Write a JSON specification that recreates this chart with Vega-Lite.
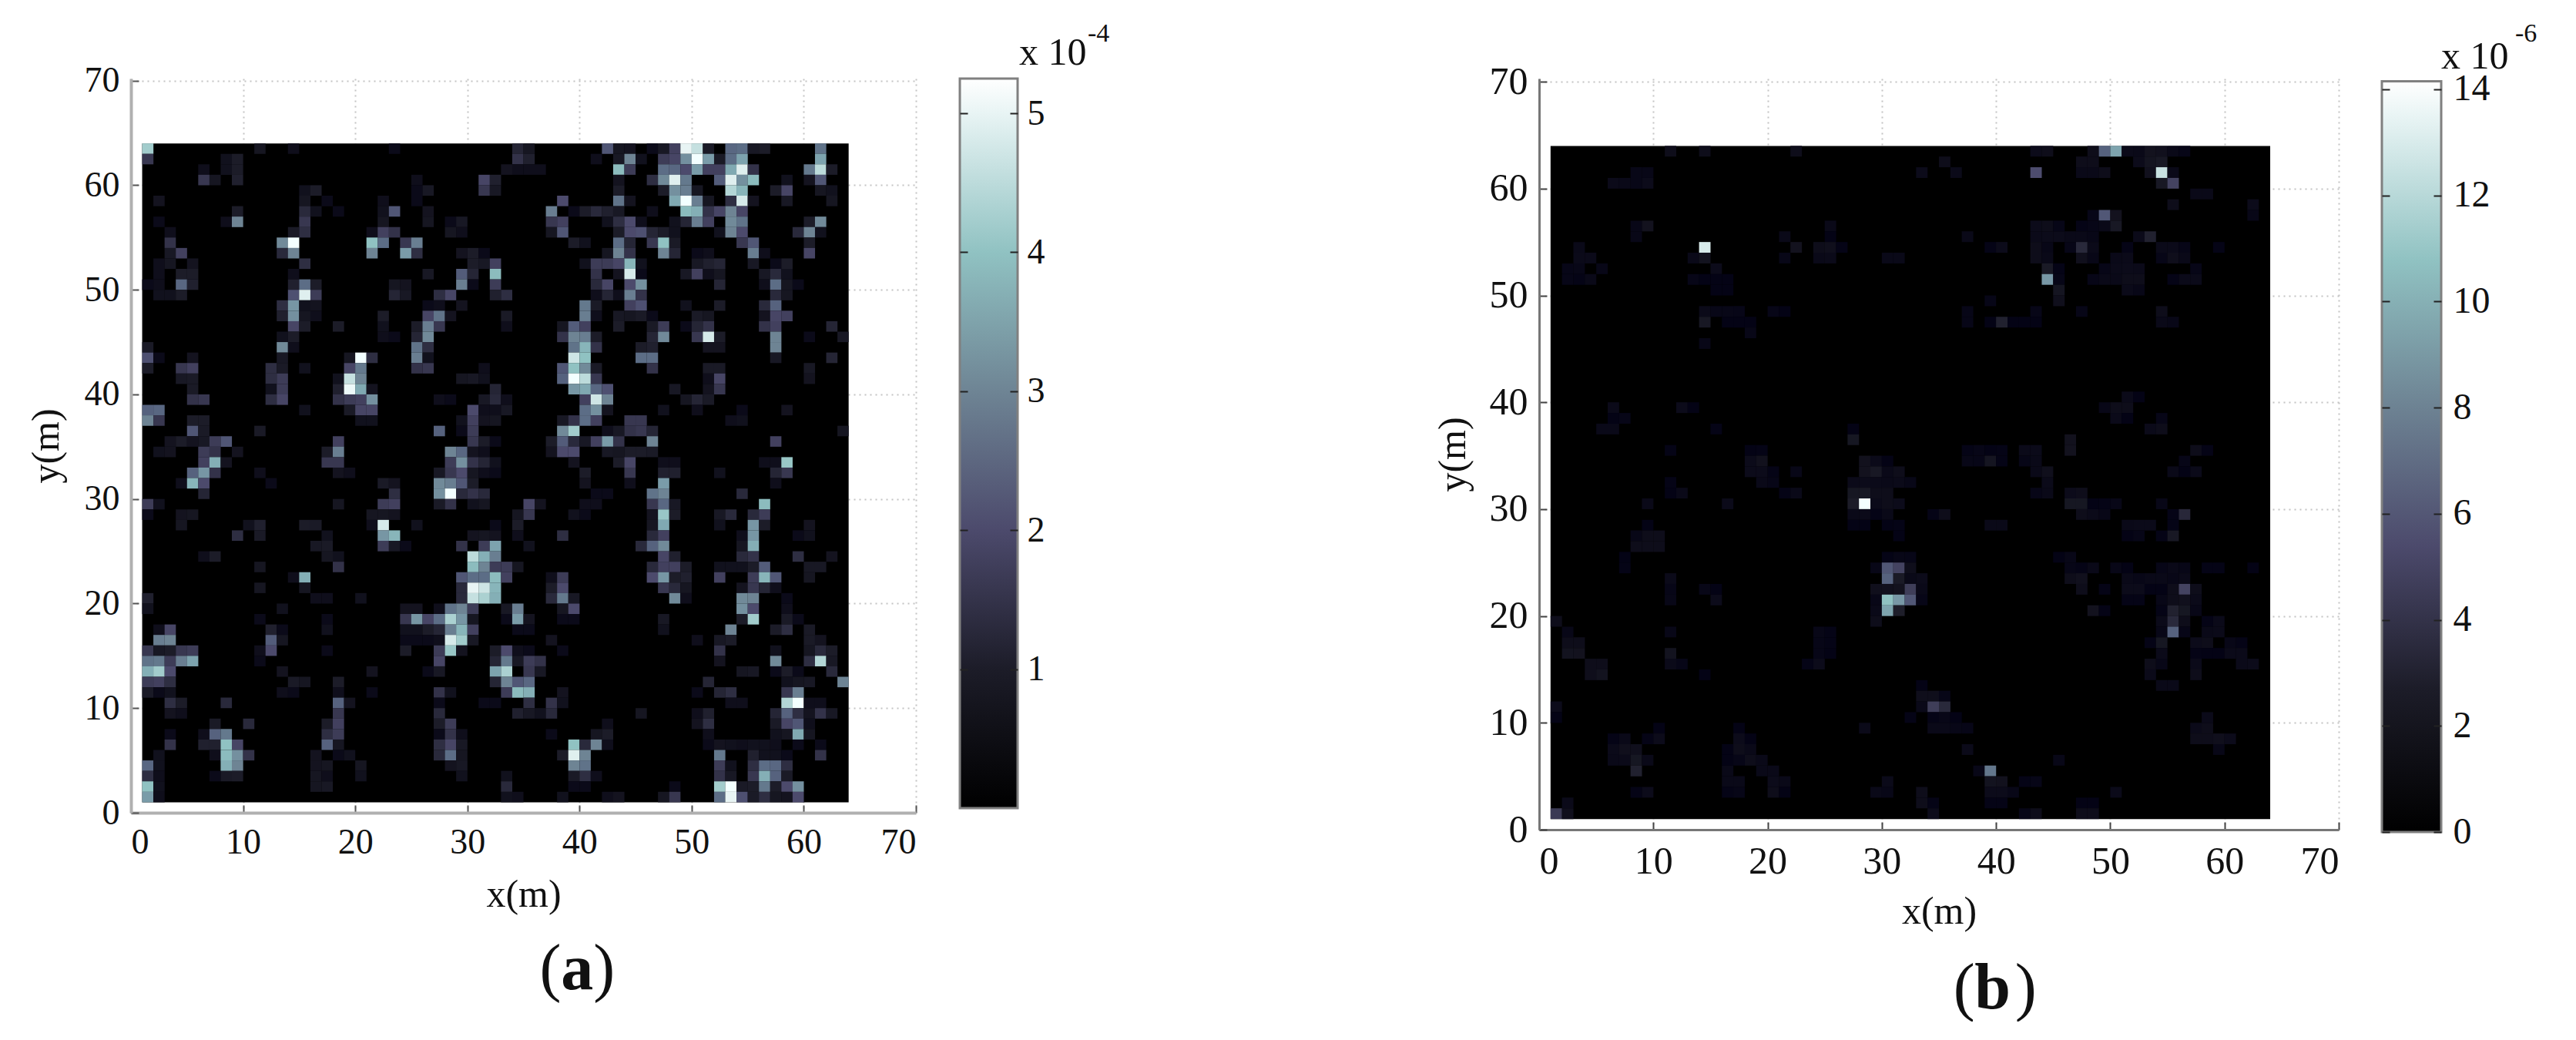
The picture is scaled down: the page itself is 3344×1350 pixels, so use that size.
{"$schema":"https://vega.github.io/schema/vega-lite/v6.json","background":"white","padding":{"left":35,"top":26,"right":0,"bottom":0},"config":{"font":"Liberation Serif","view":{"stroke":null},"axis":{"labelFont":"Liberation Serif","titleFont":"Liberation Serif","labelFontSize":46,"titleFontSize":50,"titleFontWeight":"normal","labelColor":"#111","titleColor":"#111"}},"datasets":{"a":[
{"x":1,"y":63,"v":4.2},{"x":11,"y":63,"v":0.7},{"x":14,"y":63,"v":0.4},{"x":23,"y":63,"v":0.3},{"x":34,"y":63,"v":1.2},{"x":35,"y":63,"v":0.7},{"x":42,"y":63,"v":2.2},{"x":43,"y":63,"v":0.7},{"x":44,"y":63,"v":0.6},{"x":46,"y":63,"v":0.3},{"x":47,"y":63,"v":0.8},{"x":48,"y":63,"v":1.8},{"x":49,"y":63,"v":5},{"x":50,"y":63,"v":4.6},{"x":51,"y":63,"v":0.9},{"x":53,"y":63,"v":2.5},{"x":54,"y":63,"v":2.6},{"x":55,"y":63,"v":0.8},{"x":56,"y":63,"v":1},{"x":61,"y":63,"v":2.7},
{"x":1,"y":62,"v":1.6},{"x":8,"y":62,"v":0.5},{"x":9,"y":62,"v":1},{"x":34,"y":62,"v":1.5},{"x":35,"y":62,"v":1.1},{"x":41,"y":62,"v":0.4},{"x":43,"y":62,"v":0.8},{"x":44,"y":62,"v":3},{"x":45,"y":62,"v":0.5},{"x":47,"y":62,"v":1.7},{"x":48,"y":62,"v":1.9},{"x":49,"y":62,"v":3.2},{"x":50,"y":62,"v":5.2},{"x":51,"y":62,"v":3.4},{"x":52,"y":62,"v":0.9},{"x":53,"y":62,"v":2.6},{"x":54,"y":62,"v":3.5},{"x":61,"y":62,"v":3.5},
{"x":6,"y":61,"v":0.4},{"x":8,"y":61,"v":0.5},{"x":9,"y":61,"v":1},{"x":33,"y":61,"v":0.6},{"x":34,"y":61,"v":0.4},{"x":35,"y":61,"v":0.4},{"x":36,"y":61,"v":0.4},{"x":43,"y":61,"v":3.9},{"x":44,"y":61,"v":1.7},{"x":47,"y":61,"v":2.6},{"x":48,"y":61,"v":2.5},{"x":49,"y":61,"v":2},{"x":50,"y":61,"v":3.4},{"x":51,"y":61,"v":1.8},{"x":52,"y":61,"v":1.8},{"x":53,"y":61,"v":3.6},{"x":54,"y":61,"v":4.9},{"x":55,"y":61,"v":1.5},{"x":60,"y":61,"v":2.8},{"x":61,"y":61,"v":4.5},{"x":62,"y":61,"v":1},
{"x":6,"y":60,"v":1.6},{"x":7,"y":60,"v":0.7},{"x":9,"y":60,"v":1.1},{"x":25,"y":60,"v":0.4},{"x":31,"y":60,"v":1.9},{"x":32,"y":60,"v":1.1},{"x":43,"y":60,"v":0.6},{"x":46,"y":60,"v":1.4},{"x":47,"y":60,"v":3.1},{"x":48,"y":60,"v":4.9},{"x":49,"y":60,"v":2.8},{"x":52,"y":60,"v":2.3},{"x":53,"y":60,"v":4.9},{"x":54,"y":60,"v":3.2},{"x":55,"y":60,"v":3.9},{"x":58,"y":60,"v":0.5},{"x":60,"y":60,"v":0.6},{"x":61,"y":60,"v":2.2},
{"x":15,"y":59,"v":0.5},{"x":16,"y":59,"v":1},{"x":25,"y":59,"v":0.3},{"x":26,"y":59,"v":0.8},{"x":31,"y":59,"v":1.6},{"x":32,"y":59,"v":0.8},{"x":43,"y":59,"v":1},{"x":47,"y":59,"v":1},{"x":48,"y":59,"v":3.2},{"x":49,"y":59,"v":2.9},{"x":50,"y":59,"v":0.7},{"x":53,"y":59,"v":4.4},{"x":54,"y":59,"v":3.8},{"x":57,"y":59,"v":1},{"x":58,"y":59,"v":1.9},{"x":61,"y":59,"v":0.7},{"x":62,"y":59,"v":0.5},
{"x":2,"y":58,"v":0.6},{"x":15,"y":58,"v":0.7},{"x":17,"y":58,"v":0.3},{"x":22,"y":58,"v":0.4},{"x":25,"y":58,"v":0.3},{"x":38,"y":58,"v":2},{"x":43,"y":58,"v":2.7},{"x":44,"y":58,"v":0.6},{"x":48,"y":58,"v":3.6},{"x":49,"y":58,"v":5.2},{"x":50,"y":58,"v":2.9},{"x":51,"y":58,"v":0.7},{"x":53,"y":58,"v":1.4},{"x":54,"y":58,"v":4.8},{"x":55,"y":58,"v":0.6},{"x":58,"y":58,"v":0.8},{"x":62,"y":58,"v":0.7},
{"x":9,"y":57,"v":1},{"x":15,"y":57,"v":1.3},{"x":16,"y":57,"v":0.5},{"x":18,"y":57,"v":0.3},{"x":22,"y":57,"v":0.5},{"x":23,"y":57,"v":2.2},{"x":26,"y":57,"v":0.6},{"x":37,"y":57,"v":2.9},{"x":39,"y":57,"v":0.3},{"x":40,"y":57,"v":1},{"x":41,"y":57,"v":1.3},{"x":42,"y":57,"v":1.1},{"x":43,"y":57,"v":0.8},{"x":46,"y":57,"v":0.4},{"x":49,"y":57,"v":3.9},{"x":50,"y":57,"v":3.7},{"x":51,"y":57,"v":1.5},{"x":52,"y":57,"v":1.9},{"x":53,"y":57,"v":3},{"x":54,"y":57,"v":1.9},
{"x":2,"y":56,"v":0.3},{"x":8,"y":56,"v":0.4},{"x":9,"y":56,"v":3},{"x":15,"y":56,"v":1.6},{"x":22,"y":56,"v":0.7},{"x":26,"y":56,"v":0.7},{"x":28,"y":56,"v":0.3},{"x":29,"y":56,"v":0.8},{"x":37,"y":56,"v":1.6},{"x":38,"y":56,"v":1.8},{"x":42,"y":56,"v":0.5},{"x":43,"y":56,"v":1.4},{"x":44,"y":56,"v":2},{"x":45,"y":56,"v":0.4},{"x":48,"y":56,"v":0.5},{"x":49,"y":56,"v":1.2},{"x":50,"y":56,"v":2.9},{"x":51,"y":56,"v":1.8},{"x":53,"y":56,"v":3.1},{"x":54,"y":56,"v":2.7},{"x":60,"y":56,"v":1},{"x":61,"y":56,"v":3.1},
{"x":3,"y":55,"v":0.4},{"x":14,"y":55,"v":0.9},{"x":15,"y":55,"v":1.4},{"x":21,"y":55,"v":0.4},{"x":22,"y":55,"v":1.8},{"x":23,"y":55,"v":1.5},{"x":28,"y":55,"v":0.7},{"x":29,"y":55,"v":0.4},{"x":37,"y":55,"v":0.7},{"x":38,"y":55,"v":2.2},{"x":43,"y":55,"v":1},{"x":44,"y":55,"v":2},{"x":45,"y":55,"v":2.1},{"x":46,"y":55,"v":1.2},{"x":47,"y":55,"v":1},{"x":48,"y":55,"v":0.5},{"x":52,"y":55,"v":0.5},{"x":53,"y":55,"v":3},{"x":54,"y":55,"v":2},{"x":59,"y":55,"v":1.3},{"x":60,"y":55,"v":3},{"x":61,"y":55,"v":0.5},
{"x":3,"y":54,"v":1.5},{"x":13,"y":54,"v":3.1},{"x":14,"y":54,"v":5.2},{"x":21,"y":54,"v":4},{"x":22,"y":54,"v":2.6},{"x":24,"y":54,"v":1.6},{"x":25,"y":54,"v":2.9},{"x":39,"y":54,"v":1},{"x":40,"y":54,"v":0.5},{"x":43,"y":54,"v":2.6},{"x":44,"y":54,"v":1.2},{"x":46,"y":54,"v":1.6},{"x":47,"y":54,"v":4},{"x":48,"y":54,"v":0.9},{"x":54,"y":54,"v":1.6},{"x":55,"y":54,"v":2.2},{"x":60,"y":54,"v":1},
{"x":3,"y":53,"v":0.8},{"x":4,"y":53,"v":1.8},{"x":13,"y":53,"v":1.3},{"x":14,"y":53,"v":3},{"x":21,"y":53,"v":3},{"x":24,"y":53,"v":3.4},{"x":25,"y":53,"v":1.4},{"x":29,"y":53,"v":0.6},{"x":30,"y":53,"v":1},{"x":31,"y":53,"v":0.3},{"x":42,"y":53,"v":0.7},{"x":43,"y":53,"v":3},{"x":44,"y":53,"v":1.5},{"x":47,"y":53,"v":3},{"x":48,"y":53,"v":1.2},{"x":50,"y":53,"v":0.3},{"x":51,"y":53,"v":0.4},{"x":55,"y":53,"v":2.9},{"x":56,"y":53,"v":0.4},{"x":60,"y":53,"v":1.9},
{"x":2,"y":52,"v":0.4},{"x":3,"y":52,"v":0.7},{"x":5,"y":52,"v":0.6},{"x":15,"y":52,"v":1.4},{"x":30,"y":52,"v":1},{"x":31,"y":52,"v":0.8},{"x":32,"y":52,"v":1.8},{"x":40,"y":52,"v":0.5},{"x":41,"y":52,"v":1.7},{"x":42,"y":52,"v":1.7},{"x":43,"y":52,"v":1.9},{"x":44,"y":52,"v":3.8},{"x":45,"y":52,"v":0.5},{"x":50,"y":52,"v":0.8},{"x":51,"y":52,"v":1.1},{"x":52,"y":52,"v":1.2},{"x":55,"y":52,"v":0.8},{"x":57,"y":52,"v":0.3},{"x":58,"y":52,"v":1},
{"x":2,"y":51,"v":0.4},{"x":4,"y":51,"v":1},{"x":5,"y":51,"v":1},{"x":14,"y":51,"v":0.4},{"x":26,"y":51,"v":0.8},{"x":29,"y":51,"v":2.3},{"x":30,"y":51,"v":1.2},{"x":32,"y":51,"v":3.9},{"x":41,"y":51,"v":1.5},{"x":43,"y":51,"v":0.6},{"x":44,"y":51,"v":4.8},{"x":45,"y":51,"v":0.3},{"x":49,"y":51,"v":0.8},{"x":50,"y":51,"v":1.8},{"x":51,"y":51,"v":0.4},{"x":52,"y":51,"v":0.7},{"x":56,"y":51,"v":0.8},{"x":57,"y":51,"v":1.3},{"x":58,"y":51,"v":0.5},
{"x":1,"y":50,"v":0.3},{"x":2,"y":50,"v":0.4},{"x":4,"y":50,"v":2.5},{"x":5,"y":50,"v":1.1},{"x":14,"y":50,"v":1.1},{"x":15,"y":50,"v":2.6},{"x":16,"y":50,"v":1},{"x":23,"y":50,"v":0.7},{"x":24,"y":50,"v":0.6},{"x":29,"y":50,"v":2.9},{"x":30,"y":50,"v":0.3},{"x":32,"y":50,"v":1.7},{"x":41,"y":50,"v":1.3},{"x":42,"y":50,"v":1.9},{"x":44,"y":50,"v":2},{"x":45,"y":50,"v":3.2},{"x":52,"y":50,"v":1.2},{"x":56,"y":50,"v":0.4},{"x":57,"y":50,"v":2.6},{"x":58,"y":50,"v":0.7},{"x":59,"y":50,"v":0.3},
{"x":2,"y":49,"v":0.5},{"x":3,"y":49,"v":0.5},{"x":4,"y":49,"v":1},{"x":14,"y":49,"v":2.1},{"x":15,"y":49,"v":4.9},{"x":16,"y":49,"v":1.7},{"x":23,"y":49,"v":1.2},{"x":24,"y":49,"v":0.8},{"x":27,"y":49,"v":1.4},{"x":28,"y":49,"v":1.9},{"x":32,"y":49,"v":1.1},{"x":33,"y":49,"v":1.4},{"x":41,"y":49,"v":0.4},{"x":42,"y":49,"v":1.2},{"x":43,"y":49,"v":0.4},{"x":44,"y":49,"v":2.9},{"x":45,"y":49,"v":1.5},{"x":57,"y":49,"v":1.3},{"x":58,"y":49,"v":0.7},
{"x":13,"y":48,"v":1.4},{"x":14,"y":48,"v":3.3},{"x":15,"y":48,"v":0.5},{"x":16,"y":48,"v":0.6},{"x":26,"y":48,"v":0.3},{"x":27,"y":48,"v":0.4},{"x":29,"y":48,"v":0.6},{"x":40,"y":48,"v":2.8},{"x":41,"y":48,"v":0.9},{"x":44,"y":48,"v":1.8},{"x":45,"y":48,"v":2.1},{"x":49,"y":48,"v":0.5},{"x":52,"y":48,"v":1},{"x":56,"y":48,"v":1.3},{"x":57,"y":48,"v":2.4},
{"x":13,"y":47,"v":1.1},{"x":14,"y":47,"v":3.2},{"x":15,"y":47,"v":0.7},{"x":16,"y":47,"v":0.4},{"x":22,"y":47,"v":1},{"x":26,"y":47,"v":1.9},{"x":27,"y":47,"v":2.7},{"x":28,"y":47,"v":0.6},{"x":33,"y":47,"v":0.9},{"x":40,"y":47,"v":2.9},{"x":41,"y":47,"v":0.4},{"x":43,"y":47,"v":0.8},{"x":44,"y":47,"v":0.7},{"x":45,"y":47,"v":0.9},{"x":46,"y":47,"v":0.3},{"x":50,"y":47,"v":0.9},{"x":51,"y":47,"v":0.7},{"x":56,"y":47,"v":0.6},{"x":57,"y":47,"v":1.9},{"x":58,"y":47,"v":1.8},
{"x":14,"y":46,"v":1.9},{"x":15,"y":46,"v":1},{"x":18,"y":46,"v":1},{"x":22,"y":46,"v":0.5},{"x":25,"y":46,"v":1},{"x":26,"y":46,"v":2.9},{"x":27,"y":46,"v":1.6},{"x":33,"y":46,"v":0.4},{"x":38,"y":46,"v":0.7},{"x":39,"y":46,"v":2.3},{"x":40,"y":46,"v":1.8},{"x":43,"y":46,"v":1},{"x":46,"y":46,"v":0.9},{"x":47,"y":46,"v":1.7},{"x":49,"y":46,"v":0.3},{"x":50,"y":46,"v":1.2},{"x":51,"y":46,"v":1.5},{"x":56,"y":46,"v":1.5},{"x":57,"y":46,"v":1.8},{"x":62,"y":46,"v":1.2},
{"x":13,"y":45,"v":0.5},{"x":14,"y":45,"v":1},{"x":22,"y":45,"v":0.4},{"x":23,"y":45,"v":0.3},{"x":25,"y":45,"v":1.2},{"x":26,"y":45,"v":3.1},{"x":38,"y":45,"v":1.5},{"x":39,"y":45,"v":3},{"x":40,"y":45,"v":2.9},{"x":41,"y":45,"v":1},{"x":46,"y":45,"v":1.2},{"x":47,"y":45,"v":3.1},{"x":50,"y":45,"v":1.6},{"x":51,"y":45,"v":4.8},{"x":52,"y":45,"v":1},{"x":57,"y":45,"v":3},{"x":60,"y":45,"v":0.3},{"x":63,"y":45,"v":0.8},
{"x":1,"y":44,"v":0.9},{"x":13,"y":44,"v":3.1},{"x":14,"y":44,"v":0.4},{"x":25,"y":44,"v":2.7},{"x":26,"y":44,"v":1.4},{"x":39,"y":44,"v":2.7},{"x":40,"y":44,"v":3.8},{"x":41,"y":44,"v":1.5},{"x":45,"y":44,"v":1},{"x":46,"y":44,"v":1.1},{"x":51,"y":44,"v":0.6},{"x":52,"y":44,"v":0.6},{"x":57,"y":44,"v":3},
{"x":1,"y":43,"v":2.1},{"x":2,"y":43,"v":0.3},{"x":5,"y":43,"v":0.6},{"x":13,"y":43,"v":0.8},{"x":19,"y":43,"v":0.7},{"x":20,"y":43,"v":5.2},{"x":21,"y":43,"v":1.4},{"x":25,"y":43,"v":2.9},{"x":26,"y":43,"v":0.5},{"x":39,"y":43,"v":4.7},{"x":40,"y":43,"v":4},{"x":45,"y":43,"v":2.6},{"x":46,"y":43,"v":2.6},{"x":57,"y":43,"v":0.8},{"x":62,"y":43,"v":1.2},
{"x":1,"y":42,"v":1},{"x":4,"y":42,"v":1.6},{"x":5,"y":42,"v":1.8},{"x":12,"y":42,"v":1.4},{"x":13,"y":42,"v":0.9},{"x":15,"y":42,"v":0.5},{"x":19,"y":42,"v":1.9},{"x":20,"y":42,"v":2.8},{"x":25,"y":42,"v":1.5},{"x":26,"y":42,"v":1.6},{"x":31,"y":42,"v":0.4},{"x":38,"y":42,"v":2.2},{"x":39,"y":42,"v":4},{"x":40,"y":42,"v":3.1},{"x":41,"y":42,"v":0.9},{"x":46,"y":42,"v":1.5},{"x":51,"y":42,"v":0.9},{"x":52,"y":42,"v":0.9},{"x":60,"y":42,"v":0.8},
{"x":4,"y":41,"v":0.8},{"x":5,"y":41,"v":0.9},{"x":12,"y":41,"v":1.4},{"x":13,"y":41,"v":1.7},{"x":18,"y":41,"v":0.5},{"x":19,"y":41,"v":4.6},{"x":20,"y":41,"v":3},{"x":29,"y":41,"v":0.7},{"x":30,"y":41,"v":0.8},{"x":31,"y":41,"v":0.5},{"x":38,"y":41,"v":2.4},{"x":39,"y":41,"v":5.2},{"x":40,"y":41,"v":4.5},{"x":41,"y":41,"v":1.6},{"x":51,"y":41,"v":0.4},{"x":52,"y":41,"v":1.9},{"x":60,"y":41,"v":0.6},
{"x":5,"y":40,"v":0.9},{"x":12,"y":40,"v":0.5},{"x":13,"y":40,"v":1.7},{"x":18,"y":40,"v":1.1},{"x":19,"y":40,"v":5.1},{"x":20,"y":40,"v":3.6},{"x":21,"y":40,"v":0.6},{"x":32,"y":40,"v":1.2},{"x":39,"y":40,"v":3.3},{"x":40,"y":40,"v":3.6},{"x":41,"y":40,"v":2.5},{"x":42,"y":40,"v":2.1},{"x":48,"y":40,"v":0.8},{"x":51,"y":40,"v":0.6},{"x":52,"y":40,"v":1.6},
{"x":5,"y":39,"v":1.5},{"x":6,"y":39,"v":1.6},{"x":12,"y":39,"v":1.4},{"x":13,"y":39,"v":1.9},{"x":18,"y":39,"v":1.5},{"x":19,"y":39,"v":1.7},{"x":20,"y":39,"v":1.8},{"x":21,"y":39,"v":3.2},{"x":27,"y":39,"v":0.4},{"x":28,"y":39,"v":0.3},{"x":31,"y":39,"v":0.8},{"x":32,"y":39,"v":1.3},{"x":33,"y":39,"v":0.4},{"x":40,"y":39,"v":1.8},{"x":41,"y":39,"v":4.7},{"x":42,"y":39,"v":3},{"x":49,"y":39,"v":0.7},{"x":50,"y":39,"v":1.2},{"x":51,"y":39,"v":0.9},
{"x":1,"y":38,"v":2.4},{"x":2,"y":38,"v":2.5},{"x":15,"y":38,"v":0.5},{"x":19,"y":38,"v":0.9},{"x":20,"y":38,"v":1.9},{"x":21,"y":38,"v":1.9},{"x":30,"y":38,"v":2},{"x":31,"y":38,"v":0.4},{"x":32,"y":38,"v":0.4},{"x":33,"y":38,"v":0.8},{"x":40,"y":38,"v":2.6},{"x":41,"y":38,"v":3.2},{"x":42,"y":38,"v":0.6},{"x":47,"y":38,"v":0.5},{"x":50,"y":38,"v":0.4},{"x":54,"y":38,"v":0.3},{"x":58,"y":38,"v":0.6},
{"x":1,"y":37,"v":3},{"x":2,"y":37,"v":1.6},{"x":5,"y":37,"v":1},{"x":6,"y":37,"v":1},{"x":20,"y":37,"v":0.5},{"x":21,"y":37,"v":0.5},{"x":29,"y":37,"v":0.5},{"x":30,"y":37,"v":1.8},{"x":31,"y":37,"v":0.6},{"x":32,"y":37,"v":0.7},{"x":38,"y":37,"v":0.8},{"x":39,"y":37,"v":1.5},{"x":40,"y":37,"v":2.6},{"x":41,"y":37,"v":1.8},{"x":44,"y":37,"v":1.6},{"x":45,"y":37,"v":1.6},{"x":53,"y":37,"v":0.4},{"x":54,"y":37,"v":0.5},
{"x":5,"y":36,"v":2.2},{"x":6,"y":36,"v":0.9},{"x":11,"y":36,"v":0.9},{"x":27,"y":36,"v":2.4},{"x":29,"y":36,"v":0.3},{"x":30,"y":36,"v":1.7},{"x":38,"y":36,"v":3.1},{"x":39,"y":36,"v":4.2},{"x":42,"y":36,"v":0.4},{"x":43,"y":36,"v":0.8},{"x":44,"y":36,"v":1.5},{"x":45,"y":36,"v":1.6},{"x":46,"y":36,"v":1.2},{"x":63,"y":36,"v":0.7},
{"x":3,"y":35,"v":0.6},{"x":4,"y":35,"v":1},{"x":5,"y":35,"v":0.6},{"x":6,"y":35,"v":0.8},{"x":7,"y":35,"v":1.7},{"x":8,"y":35,"v":2.2},{"x":18,"y":35,"v":1.8},{"x":30,"y":35,"v":1.6},{"x":31,"y":35,"v":1},{"x":32,"y":35,"v":0.3},{"x":37,"y":35,"v":1},{"x":38,"y":35,"v":2.3},{"x":39,"y":35,"v":1.3},{"x":40,"y":35,"v":0.8},{"x":41,"y":35,"v":1.8},{"x":42,"y":35,"v":3.4},{"x":43,"y":35,"v":1.5},{"x":46,"y":35,"v":3},{"x":57,"y":35,"v":1.8},
{"x":2,"y":34,"v":0.5},{"x":3,"y":34,"v":0.6},{"x":6,"y":34,"v":1.7},{"x":7,"y":34,"v":1.5},{"x":9,"y":34,"v":0.6},{"x":17,"y":34,"v":1},{"x":18,"y":34,"v":2.9},{"x":28,"y":34,"v":3},{"x":29,"y":34,"v":2.5},{"x":30,"y":34,"v":0.6},{"x":31,"y":34,"v":0.4},{"x":37,"y":34,"v":0.6},{"x":38,"y":34,"v":2},{"x":39,"y":34,"v":2},{"x":42,"y":34,"v":0.8},{"x":43,"y":34,"v":0.7},{"x":44,"y":34,"v":1},{"x":45,"y":34,"v":1},{"x":46,"y":34,"v":0.9},
{"x":6,"y":33,"v":1.8},{"x":7,"y":33,"v":3.7},{"x":8,"y":33,"v":0.6},{"x":17,"y":33,"v":1.6},{"x":18,"y":33,"v":1.6},{"x":28,"y":33,"v":1.7},{"x":29,"y":33,"v":3.2},{"x":30,"y":33,"v":1.5},{"x":31,"y":33,"v":1.2},{"x":32,"y":33,"v":0.5},{"x":39,"y":33,"v":0.6},{"x":43,"y":33,"v":1},{"x":44,"y":33,"v":1.9},{"x":47,"y":33,"v":0.4},{"x":48,"y":33,"v":0.4},{"x":56,"y":33,"v":0.4},{"x":57,"y":33,"v":0.4},{"x":58,"y":33,"v":4.1},
{"x":5,"y":32,"v":2.4},{"x":6,"y":32,"v":3.3},{"x":7,"y":32,"v":1.5},{"x":11,"y":32,"v":0.4},{"x":18,"y":32,"v":0.6},{"x":19,"y":32,"v":0.4},{"x":27,"y":32,"v":0.8},{"x":28,"y":32,"v":1.6},{"x":29,"y":32,"v":2},{"x":30,"y":32,"v":0.7},{"x":31,"y":32,"v":0.4},{"x":32,"y":32,"v":0.3},{"x":40,"y":32,"v":1},{"x":44,"y":32,"v":1.6},{"x":47,"y":32,"v":1.1},{"x":48,"y":32,"v":1.1},{"x":52,"y":32,"v":0.5},{"x":57,"y":32,"v":1.2},{"x":58,"y":32,"v":1.6},
{"x":4,"y":31,"v":0.4},{"x":5,"y":31,"v":3.8},{"x":6,"y":31,"v":2},{"x":12,"y":31,"v":0.3},{"x":22,"y":31,"v":0.9},{"x":23,"y":31,"v":0.6},{"x":27,"y":31,"v":3.1},{"x":28,"y":31,"v":2.9},{"x":29,"y":31,"v":2.2},{"x":30,"y":31,"v":1},{"x":40,"y":31,"v":0.6},{"x":44,"y":31,"v":0.4},{"x":47,"y":31,"v":3.4},{"x":57,"y":31,"v":0.4},
{"x":6,"y":30,"v":1.2},{"x":23,"y":30,"v":1.4},{"x":27,"y":30,"v":3.2},{"x":28,"y":30,"v":5.2},{"x":29,"y":30,"v":1.3},{"x":30,"y":30,"v":1.5},{"x":31,"y":30,"v":1.3},{"x":41,"y":30,"v":0.3},{"x":42,"y":30,"v":0.3},{"x":46,"y":30,"v":2.7},{"x":47,"y":30,"v":3},{"x":54,"y":30,"v":1.3},
{"x":1,"y":29,"v":1.7},{"x":2,"y":29,"v":0.5},{"x":18,"y":29,"v":0.7},{"x":22,"y":29,"v":1.7},{"x":23,"y":29,"v":1.8},{"x":27,"y":29,"v":0.9},{"x":28,"y":29,"v":1.5},{"x":30,"y":29,"v":0.5},{"x":31,"y":29,"v":0.7},{"x":35,"y":29,"v":1.9},{"x":36,"y":29,"v":0.6},{"x":40,"y":29,"v":0.4},{"x":41,"y":29,"v":0.4},{"x":46,"y":29,"v":1.6},{"x":47,"y":29,"v":2.5},{"x":48,"y":29,"v":0.8},{"x":56,"y":29,"v":3.9},
{"x":1,"y":28,"v":0.3},{"x":4,"y":28,"v":0.6},{"x":5,"y":28,"v":0.7},{"x":21,"y":28,"v":0.7},{"x":22,"y":28,"v":0.7},{"x":23,"y":28,"v":0.6},{"x":34,"y":28,"v":0.7},{"x":35,"y":28,"v":1.6},{"x":39,"y":28,"v":0.5},{"x":40,"y":28,"v":0.3},{"x":46,"y":28,"v":0.6},{"x":47,"y":28,"v":4.1},{"x":48,"y":28,"v":1},{"x":52,"y":28,"v":0.8},{"x":53,"y":28,"v":1.3},{"x":55,"y":28,"v":1.3},{"x":56,"y":28,"v":1.7},
{"x":4,"y":27,"v":0.7},{"x":10,"y":27,"v":0.5},{"x":11,"y":27,"v":1.1},{"x":15,"y":27,"v":1},{"x":16,"y":27,"v":0.9},{"x":21,"y":27,"v":0.4},{"x":22,"y":27,"v":4.8},{"x":25,"y":27,"v":0.5},{"x":32,"y":27,"v":0.3},{"x":34,"y":27,"v":1},{"x":46,"y":27,"v":0.7},{"x":47,"y":27,"v":3.6},{"x":52,"y":27,"v":0.5},{"x":55,"y":27,"v":3.3},{"x":56,"y":27,"v":1},{"x":60,"y":27,"v":0.6},
{"x":9,"y":26,"v":1.4},{"x":11,"y":26,"v":0.9},{"x":17,"y":26,"v":0.5},{"x":22,"y":26,"v":3.3},{"x":23,"y":26,"v":3.8},{"x":30,"y":26,"v":0.6},{"x":31,"y":26,"v":0.7},{"x":32,"y":26,"v":0.6},{"x":34,"y":26,"v":0.4},{"x":38,"y":26,"v":1.4},{"x":46,"y":26,"v":1.3},{"x":47,"y":26,"v":1.8},{"x":54,"y":26,"v":0.4},{"x":55,"y":26,"v":3.3},{"x":59,"y":26,"v":0.3},{"x":60,"y":26,"v":0.5},
{"x":16,"y":25,"v":0.8},{"x":17,"y":25,"v":0.9},{"x":22,"y":25,"v":1.7},{"x":23,"y":25,"v":0.8},{"x":24,"y":25,"v":0.3},{"x":29,"y":25,"v":1.5},{"x":31,"y":25,"v":1.7},{"x":32,"y":25,"v":3.5},{"x":35,"y":25,"v":0.5},{"x":45,"y":25,"v":1.3},{"x":46,"y":25,"v":2.4},{"x":47,"y":25,"v":3.1},{"x":54,"y":25,"v":0.7},{"x":55,"y":25,"v":3.7},
{"x":6,"y":24,"v":0.4},{"x":7,"y":24,"v":1},{"x":17,"y":24,"v":0.7},{"x":18,"y":24,"v":0.5},{"x":30,"y":24,"v":4.5},{"x":31,"y":24,"v":3.7},{"x":32,"y":24,"v":2.9},{"x":47,"y":24,"v":1.9},{"x":48,"y":24,"v":1.1},{"x":54,"y":24,"v":1.3},{"x":55,"y":24,"v":1.5},{"x":59,"y":24,"v":1.4},{"x":62,"y":24,"v":0.6},
{"x":11,"y":23,"v":0.7},{"x":18,"y":23,"v":1.5},{"x":30,"y":23,"v":3.9},{"x":31,"y":23,"v":3},{"x":32,"y":23,"v":1.7},{"x":33,"y":23,"v":1.7},{"x":34,"y":23,"v":0.7},{"x":46,"y":23,"v":1.3},{"x":47,"y":23,"v":1.8},{"x":48,"y":23,"v":1.8},{"x":49,"y":23,"v":1},{"x":52,"y":23,"v":0.5},{"x":53,"y":23,"v":0.5},{"x":54,"y":23,"v":0.5},{"x":55,"y":23,"v":1},{"x":56,"y":23,"v":2.3},{"x":60,"y":23,"v":0.8},{"x":61,"y":23,"v":0.8},
{"x":14,"y":22,"v":0.4},{"x":15,"y":22,"v":3.7},{"x":29,"y":22,"v":2.2},{"x":30,"y":22,"v":2.6},{"x":31,"y":22,"v":2.6},{"x":32,"y":22,"v":3.9},{"x":33,"y":22,"v":1.8},{"x":37,"y":22,"v":0.4},{"x":38,"y":22,"v":1.7},{"x":46,"y":22,"v":2},{"x":47,"y":22,"v":3.3},{"x":48,"y":22,"v":1},{"x":49,"y":22,"v":1.1},{"x":52,"y":22,"v":1.8},{"x":55,"y":22,"v":1.7},{"x":56,"y":22,"v":3.8},{"x":57,"y":22,"v":2.2},{"x":60,"y":22,"v":0.7},
{"x":11,"y":21,"v":0.7},{"x":15,"y":21,"v":0.7},{"x":29,"y":21,"v":1.3},{"x":30,"y":21,"v":5},{"x":31,"y":21,"v":4.7},{"x":32,"y":21,"v":3.8},{"x":37,"y":21,"v":1},{"x":38,"y":21,"v":2},{"x":47,"y":21,"v":1.6},{"x":48,"y":21,"v":1.3},{"x":49,"y":21,"v":0.7},{"x":54,"y":21,"v":0.6},{"x":55,"y":21,"v":1.6},{"x":56,"y":21,"v":1.2},{"x":57,"y":21,"v":0.4},
{"x":1,"y":20,"v":1.1},{"x":16,"y":20,"v":0.4},{"x":17,"y":20,"v":0.4},{"x":20,"y":20,"v":0.5},{"x":29,"y":20,"v":1.3},{"x":30,"y":20,"v":4.6},{"x":31,"y":20,"v":4.3},{"x":32,"y":20,"v":3.7},{"x":37,"y":20,"v":1.3},{"x":38,"y":20,"v":2.8},{"x":39,"y":20,"v":0.8},{"x":48,"y":20,"v":3.1},{"x":49,"y":20,"v":0.4},{"x":54,"y":20,"v":3.1},{"x":55,"y":20,"v":3},{"x":58,"y":20,"v":0.3},
{"x":1,"y":19,"v":0.5},{"x":13,"y":19,"v":0.5},{"x":24,"y":19,"v":0.6},{"x":25,"y":19,"v":0.6},{"x":27,"y":19,"v":0.4},{"x":28,"y":19,"v":2.7},{"x":29,"y":19,"v":3},{"x":30,"y":19,"v":1.7},{"x":33,"y":19,"v":0.8},{"x":34,"y":19,"v":2.9},{"x":38,"y":19,"v":0.7},{"x":39,"y":19,"v":2},{"x":54,"y":19,"v":3.2},{"x":55,"y":19,"v":2},{"x":58,"y":19,"v":0.4},
{"x":11,"y":18,"v":0.3},{"x":17,"y":18,"v":0.3},{"x":24,"y":18,"v":1.6},{"x":25,"y":18,"v":3.3},{"x":26,"y":18,"v":1.9},{"x":27,"y":18,"v":2.6},{"x":28,"y":18,"v":4.3},{"x":29,"y":18,"v":3.3},{"x":30,"y":18,"v":0.7},{"x":33,"y":18,"v":0.3},{"x":34,"y":18,"v":3.4},{"x":35,"y":18,"v":0.6},{"x":38,"y":18,"v":0.3},{"x":39,"y":18,"v":0.3},{"x":47,"y":18,"v":0.8},{"x":54,"y":18,"v":1},{"x":55,"y":18,"v":4.2},{"x":58,"y":18,"v":0.9},{"x":59,"y":18,"v":0.3},
{"x":2,"y":17,"v":0.4},{"x":3,"y":17,"v":1.9},{"x":12,"y":17,"v":1.1},{"x":13,"y":17,"v":0.3},{"x":17,"y":17,"v":0.5},{"x":24,"y":17,"v":0.5},{"x":25,"y":17,"v":0.5},{"x":26,"y":17,"v":1},{"x":27,"y":17,"v":1.2},{"x":28,"y":17,"v":2.9},{"x":29,"y":17,"v":3.8},{"x":30,"y":17,"v":1.8},{"x":34,"y":17,"v":0.3},{"x":35,"y":17,"v":0.3},{"x":47,"y":17,"v":0.5},{"x":53,"y":17,"v":3},{"x":57,"y":17,"v":1},{"x":58,"y":17,"v":1.4},{"x":60,"y":17,"v":0.9},
{"x":2,"y":16,"v":2.9},{"x":3,"y":16,"v":3},{"x":12,"y":16,"v":2.3},{"x":13,"y":16,"v":0.7},{"x":24,"y":16,"v":0.3},{"x":25,"y":16,"v":0.3},{"x":26,"y":16,"v":0.3},{"x":27,"y":16,"v":0.4},{"x":28,"y":16,"v":4.8},{"x":29,"y":16,"v":4.2},{"x":30,"y":16,"v":0.8},{"x":37,"y":16,"v":0.6},{"x":50,"y":16,"v":0.4},{"x":52,"y":16,"v":0.8},{"x":53,"y":16,"v":1},{"x":60,"y":16,"v":0.9},{"x":61,"y":16,"v":0.6},
{"x":1,"y":15,"v":1.6},{"x":2,"y":15,"v":0.8},{"x":3,"y":15,"v":1},{"x":4,"y":15,"v":1.6},{"x":5,"y":15,"v":1.7},{"x":11,"y":15,"v":0.4},{"x":12,"y":15,"v":2},{"x":17,"y":15,"v":0.3},{"x":24,"y":15,"v":1},{"x":27,"y":15,"v":1.7},{"x":28,"y":15,"v":4.1},{"x":29,"y":15,"v":0.6},{"x":32,"y":15,"v":1},{"x":33,"y":15,"v":2},{"x":34,"y":15,"v":0.4},{"x":35,"y":15,"v":0.3},{"x":38,"y":15,"v":0.3},{"x":52,"y":15,"v":1.5},{"x":57,"y":15,"v":0.5},{"x":60,"y":15,"v":0.7},{"x":61,"y":15,"v":1.3},{"x":62,"y":15,"v":1},
{"x":1,"y":14,"v":2.7},{"x":2,"y":14,"v":2.8},{"x":3,"y":14,"v":1.7},{"x":4,"y":14,"v":2.9},{"x":5,"y":14,"v":3.5},{"x":11,"y":14,"v":0.3},{"x":27,"y":14,"v":1.9},{"x":32,"y":14,"v":1.2},{"x":33,"y":14,"v":2.8},{"x":34,"y":14,"v":0.8},{"x":35,"y":14,"v":1.7},{"x":36,"y":14,"v":1.5},{"x":52,"y":14,"v":0.6},{"x":57,"y":14,"v":3.1},{"x":60,"y":14,"v":1.4},{"x":61,"y":14,"v":4.4},{"x":62,"y":14,"v":0.8},
{"x":1,"y":13,"v":3.7},{"x":2,"y":13,"v":4.2},{"x":3,"y":13,"v":2},{"x":13,"y":13,"v":0.6},{"x":21,"y":13,"v":0.6},{"x":26,"y":13,"v":0.3},{"x":27,"y":13,"v":0.8},{"x":32,"y":13,"v":3.5},{"x":33,"y":13,"v":4.3},{"x":35,"y":13,"v":1.6},{"x":36,"y":13,"v":0.8},{"x":54,"y":13,"v":0.7},{"x":55,"y":13,"v":0.8},{"x":57,"y":13,"v":0.3},{"x":58,"y":13,"v":1},{"x":59,"y":13,"v":0.3},{"x":62,"y":13,"v":1.3},
{"x":1,"y":12,"v":1.7},{"x":2,"y":12,"v":1.8},{"x":3,"y":12,"v":1.4},{"x":14,"y":12,"v":0.9},{"x":15,"y":12,"v":0.7},{"x":18,"y":12,"v":1},{"x":32,"y":12,"v":1.2},{"x":33,"y":12,"v":3},{"x":34,"y":12,"v":2.2},{"x":35,"y":12,"v":2.5},{"x":51,"y":12,"v":1.2},{"x":58,"y":12,"v":0.5},{"x":59,"y":12,"v":0.7},{"x":60,"y":12,"v":0.8},{"x":63,"y":12,"v":3},
{"x":1,"y":11,"v":0.9},{"x":2,"y":11,"v":0.3},{"x":3,"y":11,"v":0.5},{"x":13,"y":11,"v":0.4},{"x":14,"y":11,"v":0.3},{"x":18,"y":11,"v":0.4},{"x":21,"y":11,"v":0.3},{"x":27,"y":11,"v":1.5},{"x":28,"y":11,"v":0.5},{"x":33,"y":11,"v":1.7},{"x":34,"y":11,"v":3.9},{"x":35,"y":11,"v":3.7},{"x":38,"y":11,"v":0.6},{"x":50,"y":11,"v":0.3},{"x":52,"y":11,"v":1.2},{"x":53,"y":11,"v":1.4},{"x":58,"y":11,"v":1.6},{"x":59,"y":11,"v":2.9},
{"x":3,"y":10,"v":1.4},{"x":4,"y":10,"v":1},{"x":8,"y":10,"v":1.3},{"x":18,"y":10,"v":2.4},{"x":19,"y":10,"v":0.6},{"x":27,"y":10,"v":0.3},{"x":31,"y":10,"v":0.3},{"x":32,"y":10,"v":0.3},{"x":35,"y":10,"v":1.4},{"x":37,"y":10,"v":1.5},{"x":38,"y":10,"v":0.5},{"x":53,"y":10,"v":0.4},{"x":54,"y":10,"v":0.4},{"x":58,"y":10,"v":4.4},{"x":59,"y":10,"v":5.2},{"x":60,"y":10,"v":0.4},{"x":61,"y":10,"v":0.4},
{"x":3,"y":9,"v":0.6},{"x":4,"y":9,"v":0.4},{"x":18,"y":9,"v":1.6},{"x":27,"y":9,"v":1.3},{"x":34,"y":9,"v":1.1},{"x":35,"y":9,"v":0.8},{"x":36,"y":9,"v":0.5},{"x":37,"y":9,"v":1.3},{"x":45,"y":9,"v":0.7},{"x":50,"y":9,"v":0.4},{"x":51,"y":9,"v":1.1},{"x":57,"y":9,"v":1.2},{"x":58,"y":9,"v":2.4},{"x":59,"y":9,"v":1.4},{"x":60,"y":9,"v":0.6},{"x":61,"y":9,"v":1.5},{"x":62,"y":9,"v":0.8},
{"x":7,"y":8,"v":0.9},{"x":10,"y":8,"v":1.3},{"x":17,"y":8,"v":1},{"x":18,"y":8,"v":1.8},{"x":27,"y":8,"v":1},{"x":28,"y":8,"v":1.7},{"x":42,"y":8,"v":0.4},{"x":50,"y":8,"v":0.6},{"x":51,"y":8,"v":1.4},{"x":57,"y":8,"v":0.9},{"x":58,"y":8,"v":1.9},{"x":59,"y":8,"v":2.2},{"x":60,"y":8,"v":0.4},
{"x":3,"y":7,"v":0.3},{"x":6,"y":7,"v":0.4},{"x":7,"y":7,"v":2.4},{"x":8,"y":7,"v":2.8},{"x":17,"y":7,"v":1.4},{"x":18,"y":7,"v":1.7},{"x":27,"y":7,"v":0.3},{"x":28,"y":7,"v":1.5},{"x":29,"y":7,"v":0.4},{"x":37,"y":7,"v":0.3},{"x":41,"y":7,"v":0.7},{"x":42,"y":7,"v":1},{"x":51,"y":7,"v":0.4},{"x":57,"y":7,"v":0.5},{"x":58,"y":7,"v":0.7},{"x":59,"y":7,"v":3.6},{"x":60,"y":7,"v":0.7},
{"x":3,"y":6,"v":1.5},{"x":6,"y":6,"v":1.1},{"x":7,"y":6,"v":1.1},{"x":8,"y":6,"v":4},{"x":9,"y":6,"v":1.9},{"x":17,"y":6,"v":2.4},{"x":18,"y":6,"v":0.7},{"x":27,"y":6,"v":1.4},{"x":28,"y":6,"v":1.9},{"x":29,"y":6,"v":0.8},{"x":39,"y":6,"v":4},{"x":40,"y":6,"v":1.3},{"x":41,"y":6,"v":3},{"x":42,"y":6,"v":0.4},{"x":51,"y":6,"v":0.3},{"x":52,"y":6,"v":0.6},{"x":53,"y":6,"v":0.5},{"x":54,"y":6,"v":0.4},{"x":55,"y":6,"v":0.5},{"x":56,"y":6,"v":0.5},{"x":57,"y":6,"v":0.4},{"x":59,"y":6,"v":0.3},{"x":61,"y":6,"v":0.3},
{"x":2,"y":5,"v":0.5},{"x":7,"y":5,"v":0.4},{"x":8,"y":5,"v":3.9},{"x":9,"y":5,"v":3.2},{"x":10,"y":5,"v":1.5},{"x":16,"y":5,"v":0.6},{"x":18,"y":5,"v":0.3},{"x":19,"y":5,"v":0.5},{"x":27,"y":5,"v":1.3},{"x":28,"y":5,"v":2.6},{"x":29,"y":5,"v":0.7},{"x":38,"y":5,"v":1},{"x":39,"y":5,"v":4.9},{"x":40,"y":5,"v":3},{"x":52,"y":5,"v":2.8},{"x":55,"y":5,"v":1.1},{"x":56,"y":5,"v":0.5},{"x":57,"y":5,"v":0.5},{"x":58,"y":5,"v":0.3},{"x":61,"y":5,"v":1.5},
{"x":1,"y":4,"v":2.5},{"x":2,"y":4,"v":0.5},{"x":8,"y":4,"v":3.7},{"x":9,"y":4,"v":3},{"x":16,"y":4,"v":0.6},{"x":17,"y":4,"v":0.7},{"x":20,"y":4,"v":0.7},{"x":28,"y":4,"v":0.6},{"x":29,"y":4,"v":0.8},{"x":39,"y":4,"v":3},{"x":40,"y":4,"v":2.7},{"x":52,"y":4,"v":1.7},{"x":53,"y":4,"v":0.5},{"x":55,"y":4,"v":1.4},{"x":56,"y":4,"v":2.6},{"x":57,"y":4,"v":2.5},{"x":58,"y":4,"v":1.4},
{"x":1,"y":3,"v":1.4},{"x":2,"y":3,"v":0.4},{"x":7,"y":3,"v":0.3},{"x":8,"y":3,"v":0.9},{"x":9,"y":3,"v":1},{"x":16,"y":3,"v":0.7},{"x":17,"y":3,"v":0.4},{"x":20,"y":3,"v":0.5},{"x":29,"y":3,"v":0.5},{"x":33,"y":3,"v":0.5},{"x":39,"y":3,"v":0.9},{"x":40,"y":3,"v":1.4},{"x":41,"y":3,"v":0.4},{"x":52,"y":3,"v":1.5},{"x":53,"y":3,"v":0.8},{"x":55,"y":3,"v":1.6},{"x":56,"y":3,"v":3.7},{"x":57,"y":3,"v":2.4},{"x":58,"y":3,"v":0.9},
{"x":1,"y":2,"v":4},{"x":2,"y":2,"v":0.5},{"x":16,"y":2,"v":0.7},{"x":17,"y":2,"v":0.8},{"x":33,"y":2,"v":1.3},{"x":39,"y":2,"v":0.3},{"x":40,"y":2,"v":0.3},{"x":48,"y":2,"v":0.3},{"x":52,"y":2,"v":4.2},{"x":53,"y":2,"v":5.2},{"x":54,"y":2,"v":0.9},{"x":55,"y":2,"v":1},{"x":56,"y":2,"v":2.8},{"x":57,"y":2,"v":1},{"x":58,"y":2,"v":2},{"x":59,"y":2,"v":3.2},
{"x":1,"y":1,"v":3.4},{"x":2,"y":1,"v":0.4},{"x":33,"y":1,"v":0.5},{"x":34,"y":1,"v":0.4},{"x":38,"y":1,"v":0.5},{"x":42,"y":1,"v":0.4},{"x":43,"y":1,"v":0.6},{"x":47,"y":1,"v":0.7},{"x":48,"y":1,"v":1.6},{"x":52,"y":1,"v":2.6},{"x":53,"y":1,"v":5},{"x":54,"y":1,"v":2.1},{"x":55,"y":1,"v":0.9},{"x":56,"y":1,"v":1.4},{"x":57,"y":1,"v":0.7},{"x":58,"y":1,"v":0.6},{"x":59,"y":1,"v":2}
],"b":[
{"x":11,"y":63,"v":1},{"x":14,"y":63,"v":1},{"x":22,"y":63,"v":1},{"x":43,"y":63,"v":0.9},{"x":44,"y":63,"v":1},{"x":48,"y":63,"v":1},{"x":49,"y":63,"v":6.5},{"x":50,"y":63,"v":9.5},{"x":51,"y":63,"v":0.8},{"x":52,"y":63,"v":0.7},{"x":53,"y":63,"v":1.5},{"x":54,"y":63,"v":1.3},{"x":55,"y":63,"v":0.7},{"x":56,"y":63,"v":0.5},
{"x":35,"y":62,"v":1},{"x":47,"y":62,"v":1},{"x":48,"y":62,"v":1},{"x":52,"y":62,"v":0.9},{"x":53,"y":62,"v":1.7},{"x":54,"y":62,"v":2.2},
{"x":8,"y":61,"v":0.6},{"x":9,"y":61,"v":0.6},{"x":33,"y":61,"v":0.9},{"x":36,"y":61,"v":0.8},{"x":43,"y":61,"v":5.5},{"x":47,"y":61,"v":0.7},{"x":48,"y":61,"v":0.7},{"x":49,"y":61,"v":1},{"x":53,"y":61,"v":1.3},{"x":54,"y":61,"v":12.5},{"x":55,"y":61,"v":0.7},
{"x":6,"y":60,"v":0.8},{"x":7,"y":60,"v":0.7},{"x":8,"y":60,"v":0.6},{"x":9,"y":60,"v":0.9},{"x":54,"y":60,"v":2.2},{"x":55,"y":60,"v":5},
{"x":57,"y":59,"v":0.7},{"x":58,"y":59,"v":0.7},{"x":55,"y":58,"v":1},{"x":62,"y":58,"v":0.9},
{"x":48,"y":57,"v":0.5},{"x":49,"y":57,"v":6},{"x":50,"y":57,"v":1.5},{"x":62,"y":57,"v":0.6},
{"x":8,"y":56,"v":0.6},{"x":9,"y":56,"v":1.5},{"x":25,"y":56,"v":0.7},{"x":43,"y":56,"v":0.9},{"x":44,"y":56,"v":1},{"x":45,"y":56,"v":0.5},{"x":47,"y":56,"v":0.4},{"x":48,"y":56,"v":0.5},{"x":49,"y":56,"v":0.7},{"x":50,"y":56,"v":2.2},
{"x":8,"y":55,"v":0.6},{"x":21,"y":55,"v":0.7},{"x":25,"y":55,"v":0.3},{"x":37,"y":55,"v":0.7},{"x":43,"y":55,"v":0.8},{"x":44,"y":55,"v":0.9},{"x":45,"y":55,"v":0.9},{"x":46,"y":55,"v":0.7},{"x":47,"y":55,"v":0.7},{"x":48,"y":55,"v":0.6},{"x":52,"y":55,"v":0.8},{"x":53,"y":55,"v":3},
{"x":3,"y":54,"v":0.7},{"x":14,"y":54,"v":13},{"x":22,"y":54,"v":1.5},{"x":24,"y":54,"v":1},{"x":25,"y":54,"v":1.2},{"x":26,"y":54,"v":0.4},{"x":39,"y":54,"v":0.4},{"x":40,"y":54,"v":0.9},{"x":43,"y":54,"v":1},{"x":44,"y":54,"v":0.6},{"x":46,"y":54,"v":0.5},{"x":47,"y":54,"v":3.5},{"x":48,"y":54,"v":0.8},{"x":51,"y":54,"v":0.4},{"x":54,"y":54,"v":0.8},{"x":55,"y":54,"v":0.8},{"x":56,"y":54,"v":0.5},{"x":59,"y":54,"v":0.4},
{"x":3,"y":53,"v":0.8},{"x":4,"y":53,"v":0.8},{"x":13,"y":53,"v":0.7},{"x":14,"y":53,"v":1.6},{"x":21,"y":53,"v":0.6},{"x":24,"y":53,"v":0.7},{"x":25,"y":53,"v":0.8},{"x":30,"y":53,"v":0.7},{"x":31,"y":53,"v":0.7},{"x":43,"y":53,"v":1},{"x":44,"y":53,"v":0.7},{"x":47,"y":53,"v":1.2},{"x":48,"y":53,"v":0.6},{"x":50,"y":53,"v":0.7},{"x":51,"y":53,"v":0.8},{"x":54,"y":53,"v":0.5},{"x":55,"y":53,"v":1.1},{"x":56,"y":53,"v":0.7},
{"x":2,"y":52,"v":0.5},{"x":3,"y":52,"v":0.6},{"x":5,"y":52,"v":0.6},{"x":15,"y":52,"v":0.9},{"x":44,"y":52,"v":2.5},{"x":45,"y":52,"v":0.4},{"x":49,"y":52,"v":0.5},{"x":50,"y":52,"v":0.8},{"x":51,"y":52,"v":0.9},{"x":52,"y":52,"v":0.8},{"x":57,"y":52,"v":0.5},
{"x":2,"y":51,"v":0.5},{"x":3,"y":51,"v":0.4},{"x":4,"y":51,"v":0.7},{"x":13,"y":51,"v":0.5},{"x":14,"y":51,"v":0.3},{"x":15,"y":51,"v":0.3},{"x":16,"y":51,"v":0.3},{"x":44,"y":51,"v":9},{"x":45,"y":51,"v":0.5},{"x":48,"y":51,"v":0.5},{"x":49,"y":51,"v":0.7},{"x":50,"y":51,"v":0.7},{"x":51,"y":51,"v":1},{"x":52,"y":51,"v":1},{"x":55,"y":51,"v":0.4},{"x":56,"y":51,"v":0.8},{"x":57,"y":51,"v":0.8},
{"x":15,"y":50,"v":0.3},{"x":16,"y":50,"v":0.3},{"x":45,"y":50,"v":1.8},{"x":51,"y":50,"v":0.8},{"x":52,"y":50,"v":0.6},
{"x":39,"y":49,"v":0.5},{"x":45,"y":49,"v":1.2},
{"x":14,"y":48,"v":0.8},{"x":15,"y":48,"v":0.6},{"x":16,"y":48,"v":0.6},{"x":17,"y":48,"v":0.5},{"x":20,"y":48,"v":0.5},{"x":21,"y":48,"v":0.3},{"x":37,"y":48,"v":0.5},{"x":43,"y":48,"v":0.5},{"x":47,"y":48,"v":0.5},{"x":54,"y":48,"v":1},
{"x":14,"y":47,"v":2.2},{"x":16,"y":47,"v":0.3},{"x":17,"y":47,"v":0.3},{"x":18,"y":47,"v":0.3},{"x":37,"y":47,"v":0.5},{"x":39,"y":47,"v":0.3},{"x":40,"y":47,"v":3},{"x":41,"y":47,"v":0.3},{"x":42,"y":47,"v":0.3},{"x":43,"y":47,"v":0.3},{"x":54,"y":47,"v":0.7},{"x":55,"y":47,"v":0.6},
{"x":18,"y":46,"v":0.6},{"x":14,"y":45,"v":0.6},
{"x":51,"y":40,"v":0.8},{"x":52,"y":40,"v":0.3},{"x":6,"y":39,"v":0.8},{"x":12,"y":39,"v":0.9},{"x":13,"y":39,"v":0.3},{"x":49,"y":39,"v":0.6},{"x":50,"y":39,"v":1},{"x":51,"y":39,"v":1},
{"x":6,"y":38,"v":0.3},{"x":7,"y":38,"v":0.5},{"x":50,"y":38,"v":0.8},{"x":51,"y":38,"v":0.3},{"x":54,"y":38,"v":0.5},
{"x":5,"y":37,"v":0.7},{"x":6,"y":37,"v":0.7},{"x":15,"y":37,"v":0.4},{"x":27,"y":37,"v":0.3},{"x":53,"y":37,"v":0.8},{"x":54,"y":37,"v":1},
{"x":27,"y":36,"v":2},{"x":46,"y":36,"v":1.4},
{"x":11,"y":35,"v":0.4},{"x":18,"y":35,"v":0.3},{"x":19,"y":35,"v":0.4},{"x":37,"y":35,"v":0.4},{"x":38,"y":35,"v":0.5},{"x":39,"y":35,"v":0.3},{"x":40,"y":35,"v":0.4},{"x":42,"y":35,"v":0.8},{"x":43,"y":35,"v":0.8},{"x":46,"y":35,"v":1.5},{"x":57,"y":35,"v":1},{"x":58,"y":35,"v":0.4},
{"x":18,"y":34,"v":0.9},{"x":19,"y":34,"v":1.4},{"x":28,"y":34,"v":1.4},{"x":29,"y":34,"v":0.8},{"x":30,"y":34,"v":0.3},{"x":37,"y":34,"v":0.6},{"x":38,"y":34,"v":0.5},{"x":39,"y":34,"v":1.8},{"x":40,"y":34,"v":0.4},{"x":42,"y":34,"v":0.5},{"x":43,"y":34,"v":0.7},{"x":56,"y":34,"v":0.5},
{"x":18,"y":33,"v":0.9},{"x":19,"y":33,"v":0.9},{"x":20,"y":33,"v":0.4},{"x":22,"y":33,"v":0.6},{"x":28,"y":33,"v":1.5},{"x":29,"y":33,"v":2.2},{"x":30,"y":33,"v":0.7},{"x":31,"y":33,"v":1},{"x":43,"y":33,"v":0.7},{"x":44,"y":33,"v":1.2},{"x":55,"y":33,"v":0.7},{"x":56,"y":33,"v":0.3},{"x":57,"y":33,"v":0.8},
{"x":11,"y":32,"v":0.4},{"x":19,"y":32,"v":0.7},{"x":20,"y":32,"v":0.5},{"x":27,"y":32,"v":0.8},{"x":28,"y":32,"v":0.9},{"x":29,"y":32,"v":0.8},{"x":30,"y":32,"v":0.7},{"x":31,"y":32,"v":0.8},{"x":32,"y":32,"v":0.6},{"x":44,"y":32,"v":0.8},
{"x":11,"y":31,"v":0.3},{"x":12,"y":31,"v":0.7},{"x":21,"y":31,"v":0.4},{"x":22,"y":31,"v":0.7},{"x":27,"y":31,"v":2},{"x":28,"y":31,"v":2.2},{"x":29,"y":31,"v":1},{"x":30,"y":31,"v":1},{"x":43,"y":31,"v":0.5},{"x":44,"y":31,"v":0.7},{"x":46,"y":31,"v":0.9},{"x":47,"y":31,"v":1},
{"x":9,"y":30,"v":0.7},{"x":16,"y":30,"v":0.8},{"x":27,"y":30,"v":2.7},{"x":28,"y":30,"v":14.1},{"x":29,"y":30,"v":0.8},{"x":30,"y":30,"v":1},{"x":31,"y":30,"v":0.9},{"x":46,"y":30,"v":2},{"x":47,"y":30,"v":2},{"x":48,"y":30,"v":0.3},{"x":49,"y":30,"v":0.4},{"x":50,"y":30,"v":0.6},{"x":54,"y":30,"v":0.6},
{"x":27,"y":29,"v":0.7},{"x":28,"y":29,"v":0.8},{"x":29,"y":29,"v":0.4},{"x":30,"y":29,"v":0.7},{"x":34,"y":29,"v":0.4},{"x":35,"y":29,"v":1},{"x":47,"y":29,"v":1},{"x":48,"y":29,"v":0.8},{"x":49,"y":29,"v":0.6},{"x":55,"y":29,"v":0.4},{"x":56,"y":29,"v":3.4},
{"x":9,"y":28,"v":0.3},{"x":27,"y":28,"v":0.3},{"x":28,"y":28,"v":0.3},{"x":30,"y":28,"v":0.3},{"x":31,"y":28,"v":0.4},{"x":39,"y":28,"v":0.7},{"x":40,"y":28,"v":0.7},{"x":51,"y":28,"v":0.7},{"x":52,"y":28,"v":0.8},{"x":53,"y":28,"v":0.8},{"x":55,"y":28,"v":0.4},
{"x":8,"y":27,"v":0.6},{"x":9,"y":27,"v":1},{"x":10,"y":27,"v":1},{"x":31,"y":27,"v":0.3},{"x":51,"y":27,"v":0.3},{"x":52,"y":27,"v":0.5},{"x":54,"y":27,"v":0.4},{"x":55,"y":27,"v":2.2},
{"x":8,"y":26,"v":1},{"x":9,"y":26,"v":1},{"x":10,"y":26,"v":1},
{"x":7,"y":25,"v":0.3},{"x":30,"y":25,"v":0.4},{"x":31,"y":25,"v":0.6},{"x":32,"y":25,"v":0.5},{"x":45,"y":25,"v":0.3},{"x":46,"y":25,"v":0.6},
{"x":7,"y":24,"v":0.4},{"x":29,"y":24,"v":0.6},{"x":30,"y":24,"v":6},{"x":31,"y":24,"v":5},{"x":32,"y":24,"v":1.1},{"x":46,"y":24,"v":0.5},{"x":47,"y":24,"v":0.4},{"x":48,"y":24,"v":0.7},{"x":50,"y":24,"v":0.6},{"x":51,"y":24,"v":0.3},{"x":54,"y":24,"v":0.5},{"x":55,"y":24,"v":0.7},{"x":56,"y":24,"v":0.6},{"x":58,"y":24,"v":0.4},{"x":59,"y":24,"v":0.4},{"x":62,"y":24,"v":0.3},
{"x":11,"y":23,"v":0.8},{"x":30,"y":23,"v":6.5},{"x":31,"y":23,"v":2.4},{"x":32,"y":23,"v":0.7},{"x":33,"y":23,"v":0.9},{"x":46,"y":23,"v":1},{"x":47,"y":23,"v":1.3},{"x":51,"y":23,"v":0.7},{"x":52,"y":23,"v":0.6},{"x":53,"y":23,"v":0.7},{"x":54,"y":23,"v":0.7},{"x":55,"y":23,"v":0.6},{"x":56,"y":23,"v":0.8},
{"x":11,"y":22,"v":0.5},{"x":14,"y":22,"v":0.6},{"x":15,"y":22,"v":0.3},{"x":29,"y":22,"v":1.2},{"x":30,"y":22,"v":1.3},{"x":31,"y":22,"v":1.5},{"x":32,"y":22,"v":4.7},{"x":33,"y":22,"v":0.7},{"x":47,"y":22,"v":1},{"x":49,"y":22,"v":0.4},{"x":51,"y":22,"v":0.9},{"x":52,"y":22,"v":0.9},{"x":53,"y":22,"v":0.3},{"x":54,"y":22,"v":0.3},{"x":55,"y":22,"v":1},{"x":56,"y":22,"v":5},{"x":57,"y":22,"v":1},
{"x":11,"y":21,"v":0.6},{"x":15,"y":21,"v":0.9},{"x":29,"y":21,"v":0.6},{"x":30,"y":21,"v":10.8},{"x":31,"y":21,"v":9},{"x":32,"y":21,"v":6},{"x":33,"y":21,"v":0.5},{"x":51,"y":21,"v":0.4},{"x":52,"y":21,"v":0.4},{"x":54,"y":21,"v":0.6},{"x":55,"y":21,"v":1},{"x":56,"y":21,"v":1.3},{"x":57,"y":21,"v":0.8},
{"x":29,"y":20,"v":0.7},{"x":30,"y":20,"v":9.5},{"x":31,"y":20,"v":2.8},{"x":48,"y":20,"v":1.5},{"x":49,"y":20,"v":0.4},{"x":54,"y":20,"v":0.4},{"x":55,"y":20,"v":3},{"x":56,"y":20,"v":2},{"x":57,"y":20,"v":0.6},
{"x":1,"y":19,"v":1},{"x":29,"y":19,"v":1},{"x":54,"y":19,"v":0.8},{"x":55,"y":19,"v":3.5},{"x":56,"y":19,"v":1},{"x":58,"y":19,"v":0.4},{"x":59,"y":19,"v":0.8},
{"x":2,"y":18,"v":0.6},{"x":11,"y":18,"v":0.6},{"x":24,"y":18,"v":0.6},{"x":25,"y":18,"v":0.4},{"x":54,"y":18,"v":0.6},{"x":55,"y":18,"v":6.5},{"x":56,"y":18,"v":0.5},{"x":58,"y":18,"v":0.7},{"x":59,"y":18,"v":0.8},
{"x":2,"y":17,"v":1},{"x":3,"y":17,"v":1},{"x":24,"y":17,"v":0.5},{"x":25,"y":17,"v":0.4},{"x":53,"y":17,"v":0.4},{"x":54,"y":17,"v":2},{"x":57,"y":17,"v":0.9},{"x":58,"y":17,"v":1},{"x":60,"y":17,"v":0.6},{"x":61,"y":17,"v":0.4},
{"x":2,"y":16,"v":1.6},{"x":3,"y":16,"v":1.5},{"x":11,"y":16,"v":1.6},{"x":24,"y":16,"v":0.5},{"x":25,"y":16,"v":0.3},{"x":54,"y":16,"v":0.8},{"x":57,"y":16,"v":0.4},{"x":58,"y":16,"v":0.3},{"x":59,"y":16,"v":0.3},{"x":60,"y":16,"v":0.8},{"x":61,"y":16,"v":0.8},
{"x":4,"y":15,"v":1},{"x":5,"y":15,"v":1},{"x":11,"y":15,"v":0.8},{"x":12,"y":15,"v":0.5},{"x":23,"y":15,"v":0.4},{"x":24,"y":15,"v":0.9},{"x":53,"y":15,"v":1},{"x":54,"y":15,"v":0.6},{"x":57,"y":15,"v":0.8},{"x":61,"y":15,"v":0.8},{"x":62,"y":15,"v":0.9},
{"x":4,"y":14,"v":1.1},{"x":5,"y":14,"v":1.6},{"x":14,"y":14,"v":0.3},{"x":53,"y":14,"v":0.8},{"x":57,"y":14,"v":1},
{"x":33,"y":13,"v":0.3},{"x":54,"y":13,"v":0.7},{"x":55,"y":13,"v":0.7},
{"x":33,"y":12,"v":1.1},{"x":34,"y":12,"v":1.1},{"x":35,"y":12,"v":0.5},
{"x":1,"y":11,"v":0.9},{"x":33,"y":11,"v":0.7},{"x":34,"y":11,"v":4.7},{"x":35,"y":11,"v":3.5},
{"x":1,"y":10,"v":0.3},{"x":32,"y":10,"v":0.4},{"x":34,"y":10,"v":0.4},{"x":35,"y":10,"v":0.6},{"x":36,"y":10,"v":0.3},{"x":58,"y":10,"v":0.8},
{"x":10,"y":9,"v":0.3},{"x":17,"y":9,"v":0.3},{"x":28,"y":9,"v":0.8},{"x":34,"y":9,"v":0.7},{"x":35,"y":9,"v":0.7},{"x":36,"y":9,"v":0.6},{"x":37,"y":9,"v":0.5},{"x":57,"y":9,"v":0.8},{"x":58,"y":9,"v":1},
{"x":6,"y":8,"v":0.4},{"x":7,"y":8,"v":0.7},{"x":9,"y":8,"v":0.4},{"x":10,"y":8,"v":0.9},{"x":17,"y":8,"v":0.9},{"x":18,"y":8,"v":0.3},{"x":57,"y":8,"v":1},{"x":58,"y":8,"v":1},{"x":59,"y":8,"v":1.2},{"x":60,"y":8,"v":0.9},
{"x":6,"y":7,"v":0.8},{"x":7,"y":7,"v":1.2},{"x":8,"y":7,"v":1.2},{"x":16,"y":7,"v":0.3},{"x":17,"y":7,"v":1},{"x":18,"y":7,"v":0.7},{"x":37,"y":7,"v":0.8},{"x":59,"y":7,"v":0.6},
{"x":6,"y":6,"v":0.7},{"x":7,"y":6,"v":0.8},{"x":8,"y":6,"v":2},{"x":9,"y":6,"v":0.7},{"x":16,"y":6,"v":0.3},{"x":17,"y":6,"v":0.5},{"x":18,"y":6,"v":1},{"x":19,"y":6,"v":0.7},{"x":45,"y":6,"v":0.6},
{"x":8,"y":5,"v":3},{"x":16,"y":5,"v":0.7},{"x":19,"y":5,"v":0.7},{"x":20,"y":5,"v":0.7},{"x":38,"y":5,"v":0.6},{"x":39,"y":5,"v":7.5},
{"x":16,"y":4,"v":0.7},{"x":17,"y":4,"v":0.7},{"x":20,"y":4,"v":0.9},{"x":21,"y":4,"v":0.7},{"x":30,"y":4,"v":0.8},{"x":39,"y":4,"v":1.6},{"x":40,"y":4,"v":1.4},{"x":42,"y":4,"v":0.4},{"x":43,"y":4,"v":0.5},
{"x":8,"y":3,"v":0.4},{"x":9,"y":3,"v":0.9},{"x":16,"y":3,"v":0.4},{"x":17,"y":3,"v":0.5},{"x":20,"y":3,"v":1},{"x":21,"y":3,"v":0.3},{"x":29,"y":3,"v":0.7},{"x":30,"y":3,"v":0.6},{"x":33,"y":3,"v":1},{"x":39,"y":3,"v":0.9},{"x":40,"y":3,"v":0.9},{"x":41,"y":3,"v":0.6},{"x":50,"y":3,"v":0.8},
{"x":2,"y":2,"v":0.8},{"x":33,"y":2,"v":1},{"x":34,"y":2,"v":0.4},{"x":39,"y":2,"v":0.4},{"x":40,"y":2,"v":0.4},{"x":47,"y":2,"v":0.3},{"x":48,"y":2,"v":0.3},
{"x":1,"y":1,"v":4.5},{"x":2,"y":1,"v":1.2},{"x":34,"y":1,"v":0.9},{"x":42,"y":1,"v":0.5},{"x":43,"y":1,"v":1},{"x":47,"y":1,"v":1},{"x":48,"y":1,"v":1}
]},"spacing":420,"resolve":{"scale":{"color":"independent"}},"hconcat":[{"bounds":"flush","spacing":57,"resolve":{"scale":{"color":"independent"}},"hconcat":[{"width":1019,"height":953,"layer":[{"data":{"values":[{"x":1,"x2":64,"y":1,"y2":64}]},"mark":{"type":"rect","color":"#000"},"encoding":{"x":{"field":"x","type":"quantitative","scale":{"domain":[0,70],"nice":false},"title":"x(m)","axis":{"values":[0,10,20,30,40,50,60,70],"grid":true,"gridColor":"#c4c4c4","gridDash":[2,5],"gridWidth":2,"tickSize":-10,"tickColor":"#555","tickWidth":2,"domainColor":"#b0b0b0","domainWidth":4,"labelPadding":26,"titlePadding":20}},"x2":{"field":"x2"},"y":{"field":"y","type":"quantitative","scale":{"domain":[0,70.2],"nice":false},"title":"y(m)","axis":{"values":[0,10,20,30,40,50,60,70],"grid":true,"gridColor":"#c4c4c4","gridDash":[2,5],"gridWidth":2,"tickSize":-10,"tickColor":"#555","tickWidth":2,"domainColor":"#b0b0b0","domainWidth":4,"labelPadding":25,"titlePadding":24}},"y2":{"field":"y2"}}},{"data":{"name":"a"},"mark":{"type":"rect","width":14.65,"height":13.65,"xOffset":7.3,"yOffset":-6.8},"encoding":{"x":{"field":"x","type":"quantitative"},"y":{"field":"y","type":"quantitative"},"color":{"field":"v","type":"quantitative","legend":null,"scale":{"domain":[0,1,2,3,4,5,5.25],"range":["#000000","#1c1c28","#4c4a6c","#6e8494","#90c2c2","#e8f4f4","#ffffff"]}}}},{"data":{"values":[{"t":"(","x":37.4,"y":-16.9},{"t":")","x":42.2,"y":-16.9}]},"mark":{"type":"text","fontSize":84,"align":"center","baseline":"alphabetic","color":"#111"},"encoding":{"x":{"field":"x","type":"quantitative"},"y":{"field":"y","type":"quantitative"},"text":{"field":"t"}}},{"data":{"values":[{"t":"a","x":39.8,"y":-16.9}]},"mark":{"type":"text","fontSize":84,"fontWeight":"bold","align":"center","baseline":"alphabetic","color":"#111"},"encoding":{"x":{"field":"x","type":"quantitative"},"y":{"field":"y","type":"quantitative"},"text":{"field":"t"}}}]},{"width":75,"height":947,"resolve":{"axis":{"y":"independent"}},"layer":[{"data":{"values":[{"x":0,"x2":1,"y":0,"y2":5.25}]},"mark":{"type":"rect","stroke":"#808080","strokeWidth":3,"color":{"gradient":"linear","x1":0,"y1":1,"x2":0,"y2":0,"stops":[{"offset":0,"color":"#000000"},{"offset":0.19,"color":"#1c1c28"},{"offset":0.381,"color":"#4c4a6c"},{"offset":0.571,"color":"#6e8494"},{"offset":0.762,"color":"#90c2c2"},{"offset":0.952,"color":"#e8f4f4"},{"offset":1,"color":"#ffffff"}]}},"encoding":{"x":{"field":"x","type":"quantitative","scale":{"domain":[0,1],"nice":false},"axis":null},"x2":{"field":"x2"},"y":{"field":"y","type":"quantitative","scale":{"domain":[0,5.25],"nice":false},"title":null,"axis":{"orient":"right","values":[1,2,3,4,5],"format":"d","domain":false,"grid":false,"zindex":1,"tickSize":-10,"tickColor":"#222","tickWidth":2,"labelPadding":22}},"y2":{"field":"y2"}}},{"data":{"values":[{"t":"x 10","x":1.027,"y":5.35}]},"mark":{"type":"text","fontSize":50,"align":"left","baseline":"alphabetic","color":"#111"},"encoding":{"x":{"field":"x","type":"quantitative"},"y":{"field":"y","type":"quantitative","title":null,"axis":{"orient":"left","values":[1,2,3,4,5],"labels":false,"domain":false,"grid":false,"zindex":1,"tickSize":-10,"tickColor":"#222","tickWidth":2}},"text":{"field":"t"}}},{"data":{"values":[{"t":"-4","x":2.213,"y":5.516}]},"mark":{"type":"text","fontSize":34,"align":"left","baseline":"alphabetic","color":"#111"},"encoding":{"x":{"field":"x","type":"quantitative"},"y":{"field":"y","type":"quantitative","axis":null},"text":{"field":"t"}}}]}]},{"bounds":"flush","spacing":56,"resolve":{"scale":{"color":"independent"}},"hconcat":[{"width":1038,"height":975,"layer":[{"data":{"values":[{"x":1,"x2":64,"y":1,"y2":64}]},"mark":{"type":"rect","color":"#000"},"encoding":{"x":{"field":"x","type":"quantitative","scale":{"domain":[0,70],"nice":false},"title":"x(m)","axis":{"values":[0,10,20,30,40,50,60,70],"grid":true,"gridColor":"#c4c4c4","gridDash":[2,5],"gridWidth":2,"tickSize":-10,"tickColor":"#444","tickWidth":2,"domainColor":"#777","domainWidth":3,"labelPadding":26,"labelFontSize":50,"titlePadding":15}},"x2":{"field":"x2"},"y":{"field":"y","type":"quantitative","scale":{"domain":[0,70.3],"nice":false},"title":"y(m)","axis":{"values":[0,10,20,30,40,50,60,70],"grid":true,"gridColor":"#c4c4c4","gridDash":[2,5],"gridWidth":2,"tickSize":-10,"tickColor":"#444","tickWidth":2,"domainColor":"#777","domainWidth":3,"labelPadding":25,"labelFontSize":50,"titlePadding":22}},"y2":{"field":"y2"}}},{"data":{"name":"b"},"mark":{"type":"rect","width":14.9,"height":13.95,"xOffset":7.45,"yOffset":-6.95},"encoding":{"x":{"field":"x","type":"quantitative"},"y":{"field":"y","type":"quantitative"},"color":{"field":"v","type":"quantitative","legend":null,"scale":{"domain":[0,2.7,5.4,8.1,10.8,13.5,14.15],"range":["#000000","#1c1c28","#4c4a6c","#6e8494","#90c2c2","#e8f4f4","#ffffff"]}}}},{"data":{"values":[{"t":"(","x":37.2,"y":-16.7},{"t":")","x":42.6,"y":-16.7}]},"mark":{"type":"text","fontSize":84,"align":"center","baseline":"alphabetic","color":"#111"},"encoding":{"x":{"field":"x","type":"quantitative"},"y":{"field":"y","type":"quantitative"},"text":{"field":"t"}}},{"data":{"values":[{"t":"b","x":39.7,"y":-16.7}]},"mark":{"type":"text","fontSize":84,"fontWeight":"bold","align":"center","baseline":"alphabetic","color":"#111"},"encoding":{"x":{"field":"x","type":"quantitative"},"y":{"field":"y","type":"quantitative"},"text":{"field":"t"}}}]},{"width":77,"height":978,"resolve":{"axis":{"y":"independent"}},"layer":[{"data":{"values":[{"x":0,"x2":1,"y":0,"y2":14.15}]},"mark":{"type":"rect","stroke":"#808080","strokeWidth":3,"color":{"gradient":"linear","x1":0,"y1":1,"x2":0,"y2":0,"stops":[{"offset":0,"color":"#000000"},{"offset":0.19,"color":"#1c1c28"},{"offset":0.381,"color":"#4c4a6c"},{"offset":0.571,"color":"#6e8494"},{"offset":0.762,"color":"#90c2c2"},{"offset":0.952,"color":"#e8f4f4"},{"offset":1,"color":"#ffffff"}]}},"encoding":{"x":{"field":"x","type":"quantitative","scale":{"domain":[0,1],"nice":false},"axis":null},"x2":{"field":"x2"},"y":{"field":"y","type":"quantitative","scale":{"domain":[0,14.2],"nice":false},"title":null,"axis":{"orient":"right","values":[0,2,4,6,8,10,12,14],"format":"d","domain":false,"grid":false,"zindex":1,"tickSize":-10,"tickColor":"#222","tickWidth":2,"labelPadding":25,"labelFontSize":48}},"y2":{"field":"y2"}}},{"data":{"values":[{"t":"x 10","x":1,"y":14.39}]},"mark":{"type":"text","fontSize":50,"align":"left","baseline":"alphabetic","color":"#111"},"encoding":{"x":{"field":"x","type":"quantitative"},"y":{"field":"y","type":"quantitative","title":null,"axis":{"orient":"left","values":[0,2,4,6,8,10,12,14],"labels":false,"domain":false,"grid":false,"zindex":1,"tickSize":-10,"tickColor":"#222","tickWidth":2}},"text":{"field":"t"}}},{"data":{"values":[{"t":"-6","x":2.247,"y":14.9}]},"mark":{"type":"text","fontSize":34,"align":"left","baseline":"alphabetic","color":"#111"},"encoding":{"x":{"field":"x","type":"quantitative"},"y":{"field":"y","type":"quantitative","axis":null},"text":{"field":"t"}}}]}]}]}
